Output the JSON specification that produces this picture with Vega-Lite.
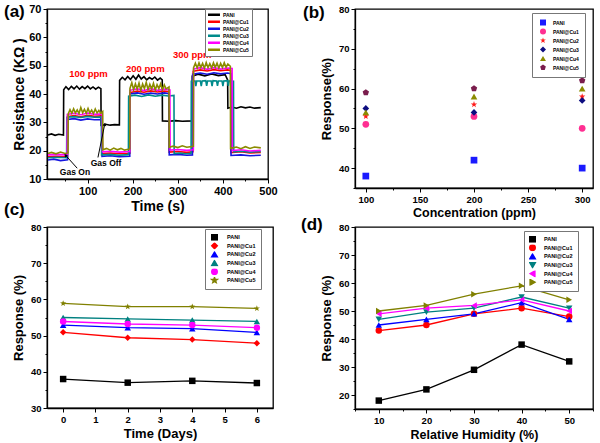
{
"$schema": "https://vega.github.io/schema/vega-lite/v6.json",
"padding": {"left": 3, "top": 2, "right": 2, "bottom": 2},
"columns": 2, "bounds": "flush", "align": "each", "spacing": {"row": 39, "column": 82},
"resolve": {"scale": {"color": "independent", "shape": "independent"}, "legend": {"color": "independent", "shape": "independent"}},
"config": {
 "font": "Liberation Sans",
 "view": {"stroke": "#000", "strokeWidth": 1.3},
 "axis": {"grid": false, "domainColor": "#000", "domainWidth": 1.3, "tickColor": "#000", "tickWidth": 1, "labelColor": "#000", "titleColor": "#000", "labelFontWeight": "bold", "titleFontWeight": "bold", "labelPadding": 2, "labelFlush": false, "labelOverlap": false, "labelFont": "Liberation Sans", "titleFont": "Liberation Sans"},
 "legend": {"title": null, "orient": "none", "strokeColor": "#777", "fillColor": "white", "labelFontWeight": "bold", "labelColor": "#000", "labelFont": "Liberation Sans"},
 "title": {"fontSize": 17, "fontWeight": "bold", "anchor": "start", "frame": "group", "color": "#000", "offset": 0, "font": "Liberation Sans"}
},
"datasets": {
 "a": [
  {"s":"PANI","t":12,"r":25.5},{"s":"PANI","t":20,"r":25.9},{"s":"PANI","t":28,"r":25.4},{"s":"PANI","t":36,"r":25.8},{"s":"PANI","t":46.5,"r":25.5},{"s":"PANI","t":47,"r":41.5},{"s":"PANI","t":52,"r":42.6},{"s":"PANI","t":58,"r":41.6},{"s":"PANI","t":64,"r":42.7},{"s":"PANI","t":70,"r":41.8},{"s":"PANI","t":76,"r":42.8},{"s":"PANI","t":82,"r":41.7},{"s":"PANI","t":88,"r":42.6},{"s":"PANI","t":94,"r":41.9},{"s":"PANI","t":100,"r":42.8},{"s":"PANI","t":106,"r":41.8},{"s":"PANI","t":112,"r":42.5},{"s":"PANI","t":118,"r":41.7},{"s":"PANI","t":124,"r":42.4},{"s":"PANI","t":129.5,"r":41.9},{"s":"PANI","t":130,"r":29},{"s":"PANI","t":140,"r":29.3},{"s":"PANI","t":150,"r":29},{"s":"PANI","t":160,"r":29.2},{"s":"PANI","t":170.5,"r":29.1},{"s":"PANI","t":171,"r":44.8},{"s":"PANI","t":177,"r":45.9},{"s":"PANI","t":183,"r":45},{"s":"PANI","t":189,"r":46.2},{"s":"PANI","t":195,"r":45.1},{"s":"PANI","t":201,"r":46.4},{"s":"PANI","t":207,"r":45.2},{"s":"PANI","t":213,"r":46.7},{"s":"PANI","t":219,"r":45.3},{"s":"PANI","t":225,"r":46.1},{"s":"PANI","t":231,"r":45},{"s":"PANI","t":237,"r":45.8},{"s":"PANI","t":243,"r":45.2},{"s":"PANI","t":249,"r":46},{"s":"PANI","t":255,"r":44.9},{"s":"PANI","t":261,"r":45.6},{"s":"PANI","t":265.5,"r":45},{"s":"PANI","t":266,"r":30.5},{"s":"PANI","t":280,"r":30.4},{"s":"PANI","t":295,"r":30.6},{"s":"PANI","t":310,"r":30.4},{"s":"PANI","t":331.5,"r":30.5},{"s":"PANI","t":332,"r":46.3},{"s":"PANI","t":345,"r":47},{"s":"PANI","t":360,"r":46.4},{"s":"PANI","t":375,"r":47.1},{"s":"PANI","t":390,"r":46.5},{"s":"PANI","t":405,"r":46.8},{"s":"PANI","t":410.5,"r":45},{"s":"PANI","t":411,"r":35},{"s":"PANI","t":420,"r":35.4},{"s":"PANI","t":430,"r":35},{"s":"PANI","t":440,"r":35.5},{"s":"PANI","t":450,"r":35.1},{"s":"PANI","t":460,"r":35.4},{"s":"PANI","t":470,"r":35},{"s":"PANI","t":484,"r":35.2},
  {"s":"PANI@Cu1","t":12,"r":17.8},{"s":"PANI@Cu1","t":30,"r":18},{"s":"PANI@Cu1","t":55.5,"r":17.8},{"s":"PANI@Cu1","t":56,"r":32},{"s":"PANI@Cu1","t":70,"r":32.4},{"s":"PANI@Cu1","t":85,"r":32},{"s":"PANI@Cu1","t":100,"r":32.5},{"s":"PANI@Cu1","t":115,"r":32.1},{"s":"PANI@Cu1","t":131.5,"r":32.3},{"s":"PANI@Cu1","t":132,"r":19},{"s":"PANI@Cu1","t":150,"r":19.2},{"s":"PANI@Cu1","t":170,"r":18.9},{"s":"PANI@Cu1","t":193.5,"r":19.1},{"s":"PANI@Cu1","t":194,"r":40.5},{"s":"PANI@Cu1","t":210,"r":41},{"s":"PANI@Cu1","t":225,"r":40.6},{"s":"PANI@Cu1","t":240,"r":41.1},{"s":"PANI@Cu1","t":255,"r":40.7},{"s":"PANI@Cu1","t":270,"r":41},{"s":"PANI@Cu1","t":280.5,"r":40.8},{"s":"PANI@Cu1","t":281,"r":19.5},{"s":"PANI@Cu1","t":300,"r":19.7},{"s":"PANI@Cu1","t":320,"r":19.4},{"s":"PANI@Cu1","t":333.5,"r":19.6},{"s":"PANI@Cu1","t":334,"r":48},{"s":"PANI@Cu1","t":350,"r":48.5},{"s":"PANI@Cu1","t":365,"r":48.1},{"s":"PANI@Cu1","t":380,"r":48.6},{"s":"PANI@Cu1","t":395,"r":48.2},{"s":"PANI@Cu1","t":410,"r":48.5},{"s":"PANI@Cu1","t":417.5,"r":48.3},{"s":"PANI@Cu1","t":418,"r":19.3},{"s":"PANI@Cu1","t":440,"r":19.6},{"s":"PANI@Cu1","t":460,"r":19.2},{"s":"PANI@Cu1","t":484,"r":19.4},
  {"s":"PANI@Cu2","t":12,"r":16.7},{"s":"PANI@Cu2","t":25,"r":17},{"s":"PANI@Cu2","t":40,"r":16.5},{"s":"PANI@Cu2","t":55.5,"r":16.8},{"s":"PANI@Cu2","t":56,"r":31},{"s":"PANI@Cu2","t":70,"r":31.3},{"s":"PANI@Cu2","t":85,"r":30.8},{"s":"PANI@Cu2","t":100,"r":31.2},{"s":"PANI@Cu2","t":115,"r":30.9},{"s":"PANI@Cu2","t":131.5,"r":31},{"s":"PANI@Cu2","t":132,"r":18},{"s":"PANI@Cu2","t":150,"r":18.2},{"s":"PANI@Cu2","t":170,"r":17.9},{"s":"PANI@Cu2","t":193.5,"r":18},{"s":"PANI@Cu2","t":194,"r":40},{"s":"PANI@Cu2","t":210,"r":40.4},{"s":"PANI@Cu2","t":225,"r":39.9},{"s":"PANI@Cu2","t":240,"r":40.3},{"s":"PANI@Cu2","t":255,"r":40},{"s":"PANI@Cu2","t":270,"r":40.4},{"s":"PANI@Cu2","t":280.5,"r":40.1},{"s":"PANI@Cu2","t":281,"r":18.5},{"s":"PANI@Cu2","t":300,"r":18.7},{"s":"PANI@Cu2","t":320,"r":18.4},{"s":"PANI@Cu2","t":332.5,"r":18.5},{"s":"PANI@Cu2","t":333,"r":47},{"s":"PANI@Cu2","t":350,"r":47.4},{"s":"PANI@Cu2","t":365,"r":47},{"s":"PANI@Cu2","t":380,"r":47.5},{"s":"PANI@Cu2","t":395,"r":47.1},{"s":"PANI@Cu2","t":410,"r":47.4},{"s":"PANI@Cu2","t":417.5,"r":47.2},{"s":"PANI@Cu2","t":418,"r":18.3},{"s":"PANI@Cu2","t":440,"r":18.5},{"s":"PANI@Cu2","t":460,"r":18.2},{"s":"PANI@Cu2","t":484,"r":18.4},
  {"s":"PANI@Cu3","t":12,"r":17.5},{"s":"PANI@Cu3","t":30,"r":17.7},{"s":"PANI@Cu3","t":53.5,"r":17.5},{"s":"PANI@Cu3","t":54,"r":31.8},{"s":"PANI@Cu3","t":70,"r":32},{"s":"PANI@Cu3","t":85,"r":31.7},{"s":"PANI@Cu3","t":100,"r":32.1},{"s":"PANI@Cu3","t":115,"r":31.8},{"s":"PANI@Cu3","t":130.5,"r":31.9},{"s":"PANI@Cu3","t":131,"r":18.5},{"s":"PANI@Cu3","t":150,"r":18.7},{"s":"PANI@Cu3","t":170,"r":18.4},{"s":"PANI@Cu3","t":190.5,"r":18.6},{"s":"PANI@Cu3","t":191,"r":39.2},{"s":"PANI@Cu3","t":205,"r":39.6},{"s":"PANI@Cu3","t":220,"r":39.1},{"s":"PANI@Cu3","t":235,"r":39.7},{"s":"PANI@Cu3","t":250,"r":39.2},{"s":"PANI@Cu3","t":265,"r":39.6},{"s":"PANI@Cu3","t":279,"r":39.3},{"s":"PANI@Cu3","t":291.5,"r":39.5},{"s":"PANI@Cu3","t":292,"r":19},{"s":"PANI@Cu3","t":305,"r":19.2},{"s":"PANI@Cu3","t":318,"r":18.9},{"s":"PANI@Cu3","t":329.5,"r":19.1},{"s":"PANI@Cu3","t":330,"r":44.5},{"s":"PANI@Cu3","t":338,"r":44.6},{"s":"PANI@Cu3","t":340,"r":42.8},{"s":"PANI@Cu3","t":342,"r":44.6},{"s":"PANI@Cu3","t":350,"r":44.6},{"s":"PANI@Cu3","t":352,"r":42.8},{"s":"PANI@Cu3","t":354,"r":44.6},{"s":"PANI@Cu3","t":362,"r":44.7},{"s":"PANI@Cu3","t":364,"r":42.9},{"s":"PANI@Cu3","t":366,"r":44.6},{"s":"PANI@Cu3","t":374,"r":44.6},{"s":"PANI@Cu3","t":376,"r":42.8},{"s":"PANI@Cu3","t":378,"r":44.7},{"s":"PANI@Cu3","t":386,"r":44.6},{"s":"PANI@Cu3","t":388,"r":42.9},{"s":"PANI@Cu3","t":390,"r":44.6},{"s":"PANI@Cu3","t":398,"r":44.6},{"s":"PANI@Cu3","t":400,"r":42.8},{"s":"PANI@Cu3","t":402,"r":44.6},{"s":"PANI@Cu3","t":410,"r":44.7},{"s":"PANI@Cu3","t":412,"r":42.9},{"s":"PANI@Cu3","t":414,"r":44.6},{"s":"PANI@Cu3","t":423.5,"r":44.5},{"s":"PANI@Cu3","t":424,"r":19.6},{"s":"PANI@Cu3","t":440,"r":19.8},{"s":"PANI@Cu3","t":460,"r":19.5},{"s":"PANI@Cu3","t":484,"r":19.7},
  {"s":"PANI@Cu4","t":12,"r":18.5},{"s":"PANI@Cu4","t":30,"r":18.7},{"s":"PANI@Cu4","t":54.5,"r":18.5},{"s":"PANI@Cu4","t":55,"r":32.8},{"s":"PANI@Cu4","t":70,"r":33.2},{"s":"PANI@Cu4","t":85,"r":32.7},{"s":"PANI@Cu4","t":100,"r":33.3},{"s":"PANI@Cu4","t":115,"r":32.8},{"s":"PANI@Cu4","t":132.5,"r":33},{"s":"PANI@Cu4","t":133,"r":19.6},{"s":"PANI@Cu4","t":150,"r":19.8},{"s":"PANI@Cu4","t":170,"r":19.5},{"s":"PANI@Cu4","t":193.5,"r":19.7},{"s":"PANI@Cu4","t":194,"r":41.3},{"s":"PANI@Cu4","t":210,"r":41.8},{"s":"PANI@Cu4","t":225,"r":41.2},{"s":"PANI@Cu4","t":240,"r":41.9},{"s":"PANI@Cu4","t":255,"r":41.3},{"s":"PANI@Cu4","t":270,"r":41.7},{"s":"PANI@Cu4","t":282.5,"r":41.4},{"s":"PANI@Cu4","t":283,"r":20.2},{"s":"PANI@Cu4","t":300,"r":20.4},{"s":"PANI@Cu4","t":320,"r":20.1},{"s":"PANI@Cu4","t":334.5,"r":20.3},{"s":"PANI@Cu4","t":335,"r":48.8},{"s":"PANI@Cu4","t":350,"r":49.3},{"s":"PANI@Cu4","t":365,"r":48.7},{"s":"PANI@Cu4","t":380,"r":49.3},{"s":"PANI@Cu4","t":395,"r":48.8},{"s":"PANI@Cu4","t":410,"r":49.2},{"s":"PANI@Cu4","t":420.5,"r":49},{"s":"PANI@Cu4","t":421,"r":20},{"s":"PANI@Cu4","t":440,"r":20.3},{"s":"PANI@Cu4","t":460,"r":19.9},{"s":"PANI@Cu4","t":484,"r":20.1},
  {"s":"PANI@Cu5","t":12,"r":19},{"s":"PANI@Cu5","t":20,"r":19.4},{"s":"PANI@Cu5","t":30,"r":18.9},{"s":"PANI@Cu5","t":40,"r":19.5},{"s":"PANI@Cu5","t":50,"r":19},{"s":"PANI@Cu5","t":56.5,"r":19.2},{"s":"PANI@Cu5","t":57,"r":33},{"s":"PANI@Cu5","t":61,"r":34.5},{"s":"PANI@Cu5","t":65,"r":33.2},{"s":"PANI@Cu5","t":69,"r":34.8},{"s":"PANI@Cu5","t":73,"r":33.3},{"s":"PANI@Cu5","t":77,"r":34.4},{"s":"PANI@Cu5","t":81,"r":33.1},{"s":"PANI@Cu5","t":85,"r":35.2},{"s":"PANI@Cu5","t":89,"r":33.4},{"s":"PANI@Cu5","t":93,"r":34.6},{"s":"PANI@Cu5","t":97,"r":33.2},{"s":"PANI@Cu5","t":101,"r":34.9},{"s":"PANI@Cu5","t":105,"r":33.3},{"s":"PANI@Cu5","t":109,"r":34.3},{"s":"PANI@Cu5","t":113,"r":33.1},{"s":"PANI@Cu5","t":117,"r":34.7},{"s":"PANI@Cu5","t":121,"r":33.3},{"s":"PANI@Cu5","t":125,"r":34.2},{"s":"PANI@Cu5","t":129,"r":33.2},{"s":"PANI@Cu5","t":133.5,"r":33.8},{"s":"PANI@Cu5","t":134,"r":20.3},{"s":"PANI@Cu5","t":142,"r":20.8},{"s":"PANI@Cu5","t":150,"r":20.2},{"s":"PANI@Cu5","t":158,"r":20.9},{"s":"PANI@Cu5","t":166,"r":20.3},{"s":"PANI@Cu5","t":174,"r":20.8},{"s":"PANI@Cu5","t":182,"r":20.2},{"s":"PANI@Cu5","t":193.5,"r":20.6},{"s":"PANI@Cu5","t":194,"r":42},{"s":"PANI@Cu5","t":198,"r":44},{"s":"PANI@Cu5","t":202,"r":41.5},{"s":"PANI@Cu5","t":206,"r":43.6},{"s":"PANI@Cu5","t":210,"r":41.8},{"s":"PANI@Cu5","t":214,"r":43.9},{"s":"PANI@Cu5","t":218,"r":41.3},{"s":"PANI@Cu5","t":222,"r":43.5},{"s":"PANI@Cu5","t":226,"r":41.9},{"s":"PANI@Cu5","t":230,"r":44.1},{"s":"PANI@Cu5","t":234,"r":41.6},{"s":"PANI@Cu5","t":238,"r":43.4},{"s":"PANI@Cu5","t":242,"r":41.8},{"s":"PANI@Cu5","t":246,"r":43.8},{"s":"PANI@Cu5","t":250,"r":41.4},{"s":"PANI@Cu5","t":254,"r":43.3},{"s":"PANI@Cu5","t":258,"r":41.9},{"s":"PANI@Cu5","t":262,"r":43.6},{"s":"PANI@Cu5","t":266,"r":41.5},{"s":"PANI@Cu5","t":270,"r":43.2},{"s":"PANI@Cu5","t":274,"r":41.8},{"s":"PANI@Cu5","t":280.5,"r":42.5},{"s":"PANI@Cu5","t":281,"r":21.2},{"s":"PANI@Cu5","t":290,"r":21.6},{"s":"PANI@Cu5","t":300,"r":21.1},{"s":"PANI@Cu5","t":310,"r":21.7},{"s":"PANI@Cu5","t":320,"r":21.2},{"s":"PANI@Cu5","t":334.5,"r":21.5},{"s":"PANI@Cu5","t":335,"r":49.3},{"s":"PANI@Cu5","t":339,"r":50.9},{"s":"PANI@Cu5","t":343,"r":49.2},{"s":"PANI@Cu5","t":347,"r":51},{"s":"PANI@Cu5","t":351,"r":49.4},{"s":"PANI@Cu5","t":355,"r":50.8},{"s":"PANI@Cu5","t":359,"r":49.1},{"s":"PANI@Cu5","t":363,"r":51.1},{"s":"PANI@Cu5","t":367,"r":49.3},{"s":"PANI@Cu5","t":371,"r":50.7},{"s":"PANI@Cu5","t":375,"r":49.2},{"s":"PANI@Cu5","t":379,"r":51},{"s":"PANI@Cu5","t":383,"r":49.4},{"s":"PANI@Cu5","t":387,"r":50.9},{"s":"PANI@Cu5","t":391,"r":49.2},{"s":"PANI@Cu5","t":395,"r":50.8},{"s":"PANI@Cu5","t":399,"r":49.3},{"s":"PANI@Cu5","t":403,"r":51},{"s":"PANI@Cu5","t":407,"r":49.4},{"s":"PANI@Cu5","t":411,"r":50.6},{"s":"PANI@Cu5","t":416.5,"r":49.8},{"s":"PANI@Cu5","t":417,"r":20.8},{"s":"PANI@Cu5","t":430,"r":21.3},{"s":"PANI@Cu5","t":440,"r":20.7},{"s":"PANI@Cu5","t":450,"r":21.4},{"s":"PANI@Cu5","t":460,"r":20.8},{"s":"PANI@Cu5","t":470,"r":21.3},{"s":"PANI@Cu5","t":484,"r":21}
 ],
 "aPpm": [
  {"label":"100 ppm","t":102,"r":47},
  {"label":"200 ppm","t":228,"r":48.9},
  {"label":"300 ppm","t":332,"r":53.6}
 ],
 "aGas": [
  {"label":"Gas On","t":72,"r":12.6},
  {"label":"Gas Off","t":141,"r":15.5}
 ],
 "aArrow": [
  {"name":"on","t":77,"r":13.8,"t2":51,"r2":18.4},
  {"name":"off","t":123,"r":17.6,"t2":138,"r2":29.3}
 ],
 "b": [
  {"s":"PANI","c":100,"r":38},{"s":"PANI","c":200,"r":42},{"s":"PANI","c":300,"r":40},
  {"s":"PANI@Cu1","c":100,"r":51},{"s":"PANI@Cu1","c":200,"r":53},{"s":"PANI@Cu1","c":300,"r":50},
  {"s":"PANI@Cu2","c":100,"r":53},{"s":"PANI@Cu2","c":200,"r":56},{"s":"PANI@Cu2","c":300,"r":58},
  {"s":"PANI@Cu3","c":100,"r":55},{"s":"PANI@Cu3","c":200,"r":54},{"s":"PANI@Cu3","c":300,"r":57},
  {"s":"PANI@Cu4","c":100,"r":54},{"s":"PANI@Cu4","c":200,"r":58},{"s":"PANI@Cu4","c":300,"r":60},
  {"s":"PANI@Cu5","c":100,"r":59},{"s":"PANI@Cu5","c":200,"r":60},{"s":"PANI@Cu5","c":300,"r":62}
 ],
 "c": [
  {"s":"PANI","d":0,"r":38},{"s":"PANI","d":2,"r":37},{"s":"PANI","d":4,"r":37.5},{"s":"PANI","d":6,"r":36.9},
  {"s":"PANI@Cu1","d":0,"r":50.9},{"s":"PANI@Cu1","d":2,"r":49.4},{"s":"PANI@Cu1","d":4,"r":48.9},{"s":"PANI@Cu1","d":6,"r":47.9},
  {"s":"PANI@Cu2","d":0,"r":52.9},{"s":"PANI@Cu2","d":2,"r":52.2},{"s":"PANI@Cu2","d":4,"r":51.9},{"s":"PANI@Cu2","d":6,"r":50.9},
  {"s":"PANI@Cu3","d":0,"r":55},{"s":"PANI@Cu3","d":2,"r":54.6},{"s":"PANI@Cu3","d":4,"r":54.3},{"s":"PANI@Cu3","d":6,"r":53.9},
  {"s":"PANI@Cu4","d":0,"r":53.9},{"s":"PANI@Cu4","d":2,"r":53.2},{"s":"PANI@Cu4","d":4,"r":52.9},{"s":"PANI@Cu4","d":6,"r":52.2},
  {"s":"PANI@Cu5","d":0,"r":58.9},{"s":"PANI@Cu5","d":2,"r":58},{"s":"PANI@Cu5","d":4,"r":58},{"s":"PANI@Cu5","d":6,"r":57.5}
 ],
 "d": [
  {"s":"PANI","h":10,"r":18},{"s":"PANI","h":20,"r":22},{"s":"PANI","h":30,"r":29},{"s":"PANI","h":40,"r":38},{"s":"PANI","h":50,"r":32},
  {"s":"PANI@Cu1","h":10,"r":43},{"s":"PANI@Cu1","h":20,"r":45},{"s":"PANI@Cu1","h":30,"r":49},{"s":"PANI@Cu1","h":40,"r":51},{"s":"PANI@Cu1","h":50,"r":48},
  {"s":"PANI@Cu2","h":10,"r":45},{"s":"PANI@Cu2","h":20,"r":47},{"s":"PANI@Cu2","h":30,"r":49},{"s":"PANI@Cu2","h":40,"r":53},{"s":"PANI@Cu2","h":50,"r":47},
  {"s":"PANI@Cu3","h":10,"r":47},{"s":"PANI@Cu3","h":20,"r":49.6},{"s":"PANI@Cu3","h":30,"r":51},{"s":"PANI@Cu3","h":40,"r":55},{"s":"PANI@Cu3","h":50,"r":51},
  {"s":"PANI@Cu4","h":10,"r":49},{"s":"PANI@Cu4","h":20,"r":51},{"s":"PANI@Cu4","h":30,"r":52},{"s":"PANI@Cu4","h":40,"r":54},{"s":"PANI@Cu4","h":50,"r":50},
  {"s":"PANI@Cu5","h":10,"r":50},{"s":"PANI@Cu5","h":20,"r":52},{"s":"PANI@Cu5","h":30,"r":56},{"s":"PANI@Cu5","h":40,"r":59},{"s":"PANI@Cu5","h":50,"r":54}
 ]
},
"concat": [
 {
  "width": 221, "height": 170,
  "title": {"text": "(a)", "dx": -43, "dy": 22},
  "encoding": {
   "x": {"field": "t", "type": "quantitative", "scale": {"domain": [10, 500], "nice": false, "zero": false},
     "axis": {"title": "Time (s)", "values": [50,100,150,200,250,300,350,400,450,500], "labelExpr": "datum.value % 100 === 0 ? datum.label : ''", "tickSize": {"condition": {"test": "datum.value % 100 === 0", "value": 4}, "value": 2}, "labelOverlap": false, "labelFontSize": 11, "titleFontSize": 14, "titlePadding": 3}},
   "y": {"field": "r", "type": "quantitative", "scale": {"domain": [10, 70], "nice": false, "zero": false},
     "axis": {"title": "Resistance (KΩ )", "values": [10,15,20,25,30,35,40,45,50,55,60,65,70], "labelExpr": "datum.value % 10 === 0 ? datum.label : ''", "tickSize": {"condition": {"test": "datum.value % 10 === 0", "value": 4}, "value": 2}, "labelOverlap": false, "labelFontSize": 11, "titleFontSize": 14, "titlePadding": 2}}
  },
  "layer": [
   {
    "data": {"name": "a"},
    "mark": {"type": "line", "strokeWidth": 1.6},
    "encoding": {
     "color": {"field": "s", "type": "nominal",
       "scale": {"domain": ["PANI","PANI@Cu1","PANI@Cu2","PANI@Cu3","PANI@Cu4","PANI@Cu5"], "range": ["#000000","#ff0000","#1515e0","#008b8b","#ff00ff","#8b8b00"]},
       "legend": {"legendX": 158, "legendY": 0, "symbolType": "M-2,0H2", "symbolSize": 42, "symbolStrokeWidth": 2.5, "labelFontSize": 5, "labelOffset": 5, "symbolOffset": 1, "padding": 3, "rowPadding": 1, "clipHeight": 5.5}}
    }
   },
   {
    "data": {"name": "aPpm"},
    "mark": {"type": "text", "color": "#ff0000", "fontWeight": "bold", "fontSize": 9.5},
    "encoding": {"text": {"field": "label"}}
   },
   {
    "data": {"name": "aGas"},
    "mark": {"type": "text", "color": "#000", "fontWeight": "bold", "fontSize": 8.5},
    "encoding": {"text": {"field": "label"}}
   },
   {
    "data": {"name": "aArrow"},
    "mark": {"type": "rule", "color": "#000", "strokeWidth": 1},
    "encoding": {"x2": {"field": "t2"}, "y2": {"field": "r2"}}
   },
   {
    "data": {"name": "aArrow"},
    "transform": [{"filter": "datum.name === 'on'"}],
    "mark": {"type": "point", "shape": "triangle-up", "filled": true, "color": "#000", "size": 14, "angle": 322, "opacity": 1},
    "encoding": {"x": {"field": "t2", "type": "quantitative"}, "y": {"field": "r2", "type": "quantitative"}}
   },
   {
    "data": {"name": "aArrow"},
    "transform": [{"filter": "datum.name === 'off'"}],
    "mark": {"type": "point", "shape": "triangle-up", "filled": true, "color": "#000", "size": 14, "angle": 12, "opacity": 1},
    "encoding": {"x": {"field": "t2", "type": "quantitative"}, "y": {"field": "r2", "type": "quantitative"}}
   }
  ]
 },
 {
  "width": 238, "height": 179,
  "title": {"text": "(b)", "dx": -52, "dy": 22},
  "data": {"name": "b"},
  "mark": {"type": "point", "filled": true, "size": 45, "opacity": 1},
  "encoding": {
   "x": {"field": "c", "type": "quantitative", "scale": {"domain": [90, 310], "nice": false, "zero": false},
     "axis": {"title": "Concentration (ppm)", "values": [100,125,150,175,200,225,250,275,300], "labelExpr": "datum.value % 50 === 0 ? datum.label : ''", "tickSize": {"condition": {"test": "datum.value % 50 === 0", "value": 4}, "value": 2}, "labelFontSize": 9.5, "titleFontSize": 12.5, "titlePadding": 3}},
   "y": {"field": "r", "type": "quantitative", "scale": {"domain": [35, 80], "nice": false, "zero": false},
     "axis": {"title": "Response(%)", "values": [35,40,45,50,55,60,65,70,75,80], "labelExpr": "datum.value % 10 === 0 ? datum.label : ''", "tickSize": {"condition": {"test": "datum.value % 10 === 0", "value": 4}, "value": 2}, "labelFontSize": 9.5, "titleFontSize": 13, "titlePadding": 5}},
   "color": {"field": "s", "type": "nominal",
     "scale": {"domain": ["PANI","PANI@Cu1","PANI@Cu2","PANI@Cu3","PANI@Cu4","PANI@Cu5"], "range": ["#1a1aff","#ff2f92","#ff1a1a","#0d0d80","#8b8b00","#7a1d4d"]},
     "legend": {"legendX": 177, "legendY": 4, "symbolSize": 36, "labelFontSize": 5, "labelOffset": 6, "symbolOffset": 1, "padding": 6, "rowPadding": 2, "clipHeight": 7}},
   "shape": {"field": "s", "type": "nominal",
     "scale": {"domain": ["PANI","PANI@Cu1","PANI@Cu2","PANI@Cu3","PANI@Cu4","PANI@Cu5"], "range": ["square","circle","M0,-1L0.235,-0.324L0.951,-0.309L0.38,0.124L0.588,0.809L0,0.4L-0.588,0.809L-0.38,0.124L-0.951,-0.309L-0.235,-0.324Z","diamond","triangle-up","M0,-1L0.951,-0.309L0.588,0.809L-0.588,0.809L-0.951,-0.309Z"]}}
  }
 },
 {
  "width": 226, "height": 181,
  "title": {"text": "(c)", "dx": -43, "dy": 1},
  "data": {"name": "c"},
  "encoding": {
   "x": {"field": "d", "type": "quantitative", "scale": {"domain": [-0.5, 6.5], "nice": false, "zero": false},
     "axis": {"title": "Time  (Days)", "values": [0,1,2,3,4,5,6], "tickSize": 4, "labelFontSize": 9.5, "titleFontSize": 13, "titlePadding": 4}},
   "y": {"field": "r", "type": "quantitative", "scale": {"domain": [30, 80], "nice": false, "zero": false},
     "axis": {"title": "Response (%)", "values": [30,35,40,45,50,55,60,65,70,75,80], "labelExpr": "datum.value % 10 === 0 ? datum.label : ''", "tickSize": {"condition": {"test": "datum.value % 10 === 0", "value": 4}, "value": 2}, "labelFontSize": 9.5, "titleFontSize": 13, "titlePadding": 5}},
   "color": {"field": "s", "type": "nominal",
     "scale": {"domain": ["PANI","PANI@Cu1","PANI@Cu2","PANI@Cu3","PANI@Cu4","PANI@Cu5"], "range": ["#000000","#ff0000","#0000ff","#008080","#ff00ff","#808000"]},
     "legend": {"legendX": 158, "legendY": 2, "symbolSize": 30, "labelFontSize": 5.5, "labelOffset": 9, "symbolOffset": 1, "padding": 5, "rowPadding": 1.6, "clipHeight": 6.5}}
  },
  "layer": [
   {"mark": {"type": "line", "strokeWidth": 1.3}},
   {"mark": {"type": "point", "filled": true, "size": 42, "opacity": 1},
    "encoding": {"shape": {"field": "s", "type": "nominal",
      "scale": {"domain": ["PANI","PANI@Cu1","PANI@Cu2","PANI@Cu3","PANI@Cu4","PANI@Cu5"], "range": ["square","diamond","triangle-up","triangle-up","circle","M0,-1L0.235,-0.324L0.951,-0.309L0.38,0.124L0.588,0.809L0,0.4L-0.588,0.809L-0.38,0.124L-0.951,-0.309L-0.235,-0.324Z"]}}}}
  ]
 },
 {
  "width": 238, "height": 182,
  "title": {"text": "(d)", "dx": -54, "dy": 16},
  "data": {"name": "d"},
  "encoding": {
   "x": {"field": "h", "type": "quantitative", "scale": {"domain": [5, 55], "nice": false, "zero": false},
     "axis": {"title": "Relative Humidity  (%)", "values": [5,10,15,20,25,30,35,40,45,50,55], "labelExpr": "datum.value % 10 === 0 ? datum.label : ''", "tickSize": {"condition": {"test": "datum.value % 10 === 0", "value": 4}, "value": 2}, "labelFontSize": 9.5, "titleFontSize": 12.5, "titlePadding": 4}},
   "y": {"field": "r", "type": "quantitative", "scale": {"domain": [15, 80], "nice": false, "zero": false},
     "axis": {"title": "Response (%)", "values": [15,20,25,30,35,40,45,50,55,60,65,70,75,80], "labelExpr": "datum.value % 10 === 0 ? datum.label : ''", "tickSize": {"condition": {"test": "datum.value % 10 === 0", "value": 4}, "value": 2}, "labelFontSize": 9.5, "titleFontSize": 13, "titlePadding": 5}},
   "color": {"field": "s", "type": "nominal",
     "scale": {"domain": ["PANI","PANI@Cu1","PANI@Cu2","PANI@Cu3","PANI@Cu4","PANI@Cu5"], "range": ["#000000","#ff0000","#0000ff","#008080","#ff00ff","#808000"]},
     "legend": {"legendX": 169, "legendY": 4, "symbolSize": 30, "labelFontSize": 5.5, "labelOffset": 8, "symbolOffset": 0, "padding": 5, "rowPadding": 1.6, "clipHeight": 6.5}}
  },
  "layer": [
   {"mark": {"type": "line", "strokeWidth": 1.3}},
   {"mark": {"type": "point", "filled": true, "size": 42, "opacity": 1},
    "encoding": {"shape": {"field": "s", "type": "nominal",
      "scale": {"domain": ["PANI","PANI@Cu1","PANI@Cu2","PANI@Cu3","PANI@Cu4","PANI@Cu5"], "range": ["square","circle","triangle-up","triangle-down","triangle-left","triangle-right"]}}}}
  ]
 }
]
}
